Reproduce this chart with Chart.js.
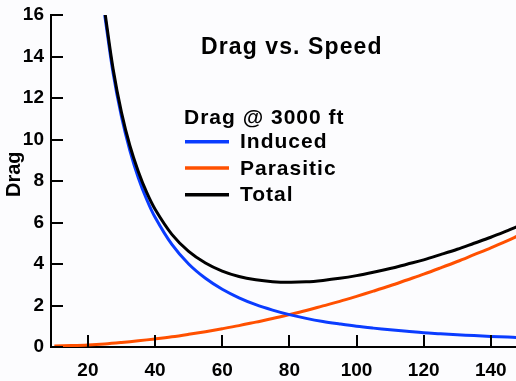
<!DOCTYPE html>
<html><head><meta charset="utf-8">
<script src="https://cdn.jsdelivr.net/npm/chart.js@4/dist/chart.umd.min.js"></script>
<style>html,body{margin:0;padding:0;background:#fcfcfe;}canvas{display:block}</style>
</head><body>
<canvas id="c" width="516" height="381"></canvas>
<script>
// Data
const speeds = [25,27.5,30,32.5,35,37.5,40,45,50,55,60,65,70,75,80,85,90,95,100,105,110,115,120,125,130,135,140,145,148];
const induced = [16.0,13.2,11.1,9.47,8.16,7.11,6.25,4.94,4.0,3.31,2.78,2.37,2.04,1.78,1.56,1.38,1.23,1.11,1.0,0.91,0.83,0.76,0.69,0.64,0.59,0.55,0.51,0.48,0.46];
const total = [16.2,13.4,11.3,9.7,8.46,7.45,6.64,5.43,4.61,4.05,3.66,3.4,3.24,3.15,3.12,3.14,3.21,3.31,3.44,3.6,3.78,3.99,4.2,4.45,4.71,5.0,5.29,5.61,5.81];
const parasiticSpeeds = [10,15,20,25,30,35,40,45,50,55,60,65,70,75,80,85,90,95,100,105,110,115,120,125,130,135,140,145,148];
const parasitic = [0.05,0.07,0.1,0.15,0.22,0.3,0.39,0.49,0.61,0.74,0.88,1.03,1.2,1.37,1.56,1.76,1.98,2.2,2.44,2.69,2.95,3.23,3.51,3.81,4.12,4.45,4.78,5.13,5.35];
const yTicks = [0,2,4,6,8,10,12,14,16];
const xTicks = [20,40,60,80,100,120,140];
const seriesNames = ['Induced','Parasitic','Total'];
const seriesColors = ['#0a3cff','#ff5000','#000000'];
const chartTitle = 'Drag vs. Speed';
const legendTitle = 'Drag @ 3000 ft';
const yTitle = 'Drag';

const pts = (xs, ys) => xs.map((x, i) => ({x, y: ys[i]}));
const FONT = '"Liberation Sans", Arial, sans-serif';

const decor = {
  id: 'decor',
  afterDraw(chart) {
    const ctx = chart.ctx;
    const xs = chart.scales.x, ys = chart.scales.y;
    const axisX = ys.right;
    const axisY = xs.top;
    ctx.save();
    ctx.fillStyle = '#000';
    // inward tick marks
    yTicks.forEach(v => {
      const p = Math.round(ys.getPixelForValue(v));
      ctx.fillRect(axisX - 1, p - 1, 13, 2);
    });
    xTicks.forEach(v => {
      const p = Math.round(xs.getPixelForValue(v));
      ctx.fillRect(p - 1, axisY - 12, 2, 13);
    });
    ctx.textAlign = 'left';
    ctx.textBaseline = 'alphabetic';
    // title
    ctx.font = 'bold 23px ' + FONT;
    ctx.letterSpacing = '1.1px';
    ctx.fillText(chartTitle, 201, 54);
    // legend
    ctx.font = 'bold 21px ' + FONT;
    ctx.letterSpacing = '1px';
    ctx.fillText(legendTitle, 184, 124);
    const lineY = [141.7, 168, 194.7];
    const textY = [148.3, 174.5, 201];
    seriesNames.forEach((n, i) => {
      ctx.strokeStyle = seriesColors[i];
      ctx.lineWidth = 3.5;
      ctx.beginPath(); ctx.moveTo(185, lineY[i]); ctx.lineTo(229, lineY[i]); ctx.stroke();
      ctx.fillText(n, 240, textY[i]);
    });
    // y title
    ctx.letterSpacing = '0px';
    ctx.font = 'bold 20px ' + FONT;
    ctx.translate(20, 197);
    ctx.rotate(-Math.PI / 2);
    ctx.fillText(yTitle, 0, 0);
    ctx.restore();
  }
};

new Chart(document.getElementById('c'), {
  type: 'line',
  data: {
    datasets: [
      {label: seriesNames[0], data: pts(speeds, induced), borderColor: seriesColors[0], order: 1},
      {label: seriesNames[1], data: pts(parasiticSpeeds, parasitic), borderColor: seriesColors[1], order: 2},
      {label: seriesNames[2], data: pts(speeds, total), borderColor: seriesColors[2], order: 0}
    ].map(d => Object.assign(d, {borderWidth: 3, pointRadius: 0, tension: 0.35, fill: false}))
  },
  options: {
    responsive: false,
    animation: false,
    events: [],
    layout: {padding: {top: 15, right: 0, left: 0, bottom: 0}},
    plugins: {legend: {display: false}, title: {display: false}, tooltip: {enabled: false}},
    scales: {
      x: {
        type: 'linear', min: 9, max: 147.5,
        afterFit: s => { s.height = 34; s.paddingRight = 0; s.paddingLeft = 0; },
        afterBuildTicks: s => { s.ticks = xTicks.map(v => ({value: v})); },
        grid: {display: false, drawTicks: false},
        border: {display: true, color: '#000', width: 2},
        ticks: {color: '#000', padding: 12, font: {family: FONT, size: 19, weight: 'bold'}}
      },
      y: {
        type: 'linear', min: 0, max: 16,
        afterFit: s => { s.width = 51; s.paddingTop = 0; s.paddingBottom = 0; },
        afterBuildTicks: s => { s.ticks = yTicks.map(v => ({value: v})); },
        grid: {display: false, drawTicks: false},
        border: {display: true, color: '#000', width: 2},
        ticks: {color: '#000', padding: 7, font: {family: FONT, size: 19, weight: 'bold'}}
      }
    }
  },
  plugins: [decor]
});
</script>
</body></html>
